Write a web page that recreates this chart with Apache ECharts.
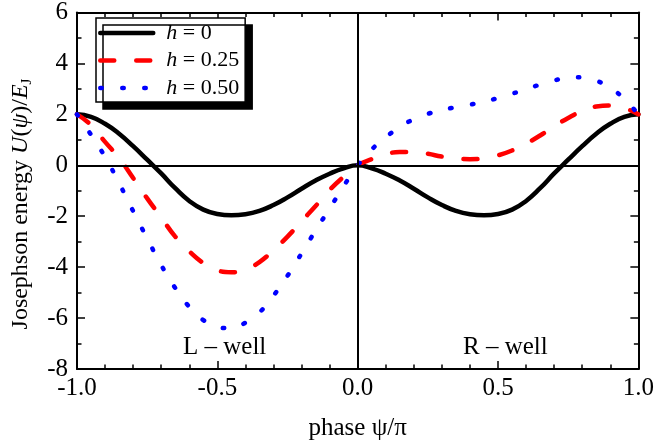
<!DOCTYPE html>
<html>
<head>
<meta charset="utf-8">
<title>Josephson energy</title>
<script src="https://cdn.jsdelivr.net/npm/echarts@6/dist/echarts.min.js"></script>
<style>
  html, body { margin: 0; padding: 0; background: #fff; }
  #main { width: 657px; height: 448px; }
</style>
</head>
<body>
<div id="main"></div>
<script>
// phase psi/pi, sampled every 0.05
var phase = [-1.0, -0.95, -0.9, -0.85, -0.8, -0.75, -0.7, -0.65, -0.6, -0.55, -0.5,
  -0.45, -0.4, -0.35, -0.3, -0.25, -0.2, -0.15, -0.1, -0.05, 0.0,
  0.05, 0.1, 0.15, 0.2, 0.25, 0.3, 0.35, 0.4, 0.45, 0.5,
  0.55, 0.6, 0.65, 0.7, 0.75, 0.8, 0.85, 0.9, 0.95, 1.0];

// h = 0
var u_h0 = [2.0, 1.9, 1.63, 1.24, 0.75, 0.22, -0.32, -0.9, -1.4, -1.74, -1.91,
  -1.96, -1.92, -1.79, -1.56, -1.26, -0.92, -0.6, -0.33, -0.12, 0.0,
  -0.12, -0.33, -0.6, -0.92, -1.26, -1.56, -1.79, -1.92, -1.96, -1.91,
  -1.74, -1.4, -0.9, -0.32, 0.22, 0.75, 1.24, 1.63, 1.9, 2.0];

// h = 0.25
var u_h025 = [2.0, 1.58, 0.92, 0.28, -0.5, -1.3, -2.05, -2.8, -3.38, -3.84, -4.13,
  -4.2, -4.1, -3.8, -3.33, -2.8, -2.2, -1.6, -0.97, -0.45, 0.0,
  0.24, 0.43, 0.52, 0.52, 0.45, 0.34, 0.27, 0.24, 0.27, 0.39,
  0.58, 0.85, 1.17, 1.53, 1.86, 2.13, 2.31, 2.35, 2.25, 2.0];

// h = 0.50
var u_h050 = [2.0, 1.2, 0.33, -0.7, -1.8, -2.87, -3.92, -4.82, -5.56, -6.08, -6.35,
  -6.4, -6.18, -5.78, -5.12, -4.34, -3.46, -2.56, -1.7, -0.82, 0.0,
  0.62, 1.1, 1.5, 1.81, 2.02, 2.17, 2.28, 2.38, 2.5, 2.64,
  2.81, 2.99, 3.17, 3.33, 3.44, 3.46, 3.32, 3.04, 2.6, 2.0];

var names = ['h = 0', 'h = 0.25', 'h = 0.50'];
var wellLabels = ['L \u2013 well', 'R \u2013 well'];
var yTitle = 'Josephson energy {i|U}({i|\u03c8})/{i|E}{sub|J}';
var xTitle = 'phase \u03c8/\u03c0';

var serif = '"Liberation Serif", "DejaVu Serif", serif';

function pairs(ys) {
  return phase.map(function (x, i) { return [x, ys[i]]; });
}

var chart = echarts.init(document.getElementById('main'), null, { renderer: 'canvas' });

var axisLine = { show: true, onZero: false, lineStyle: { color: '#000', width: 2 } };

function xAxisBase(pos, labels) {
  return {
    type: 'value', position: pos, min: -1, max: 1, interval: 0.5,
    axisLine: axisLine,
    axisTick: { show: true, inside: true, length: 8, lineStyle: { color: '#000', width: 1.5 } },
    minorTick: { show: true, splitNumber: 5, length: 4.5, lineStyle: { color: '#000', width: 1.5 } },
    splitLine: { show: false },
    axisLabel: {
      show: labels, margin: 7, color: '#000', fontFamily: serif, fontSize: 25,
      formatter: function (v) { return v.toFixed(1); }
    }
  };
}

function yAxisBase(pos, labels) {
  return {
    type: 'value', position: pos, min: -8, max: 6, interval: 2,
    axisLine: axisLine,
    axisTick: { show: true, inside: true, length: 8, lineStyle: { color: '#000', width: 1.5 } },
    minorTick: { show: true, splitNumber: 2, length: 4.5, lineStyle: { color: '#000', width: 1.5 } },
    splitLine: { show: false },
    axisLabel: { show: labels, margin: 9, color: '#000', fontFamily: serif, fontSize: 25 }
  };
}

var xMain = xAxisBase('bottom', true);
xMain.name = xTitle;
xMain.nameLocation = 'middle';
xMain.nameGap = 47;
xMain.nameTextStyle = { color: '#000', fontFamily: serif, fontSize: 25 };

var option = {
  animation: false,
  backgroundColor: '#fff',
  grid: { left: 77, right: 16, top: 9, bottom: 79, containLabel: false },
  xAxis: [xMain, xAxisBase('top', false)],
  yAxis: [yAxisBase('left', true), yAxisBase('right', false)],
  legend: {
    orient: 'vertical',
    left: 96, top: 18,
    padding: [4, 6, 3, 2],
    itemWidth: 53, itemHeight: 22, itemGap: 5.5,
    backgroundColor: '#fff',
    borderColor: '#000', borderWidth: 1.5, borderRadius: 0,
    shadowColor: '#000', shadowBlur: 0, shadowOffsetX: 7, shadowOffsetY: 7,
    itemStyle: { opacity: 0 },
    lineStyle: { width: 4.5 },
    formatter: function (name) { return '{i|h}' + name.slice(1); },
    textStyle: {
      color: '#000', fontFamily: serif, fontSize: 22, lineHeight: 22, padding: [0, 0, 0, 8],
      rich: { i: { fontFamily: serif, fontSize: 22, fontStyle: 'italic', color: '#000' } }
    },
    data: names
  },
  graphic: [
    {
      type: 'text', x: 21, y: 204, rotation: Math.PI / 2,
      style: {
        text: yTitle, fill: '#000', fontFamily: serif, fontSize: 24, lineHeight: 28,
        align: 'center', verticalAlign: 'middle',
        rich: {
          i: { fontFamily: serif, fontSize: 24, fontStyle: 'italic', fill: '#000', lineHeight: 28 },
          sub: { fontFamily: serif, fontSize: 15, fill: '#000', verticalAlign: 'bottom', lineHeight: 15 }
        }
      }
    },
    { type: 'text', left: 183, top: 335, style: { text: wellLabels[0], fill: '#000', font: '25px ' + serif } },
    { type: 'text', left: 463, top: 335, style: { text: wellLabels[1], fill: '#000', font: '25px ' + serif } }
  ],
  series: [
    {
      name: names[0], type: 'line', data: pairs(u_h0), smooth: 0.5, symbol: 'none',
      lineStyle: { color: '#000', width: 4.5, type: 'solid', cap: 'round' },
      itemStyle: { color: '#000' },
      markLine: {
        silent: true, symbol: ['none', 'none'], label: { show: false },
        lineStyle: { color: '#000', width: 2, type: 'solid' },
        data: [{ xAxis: 0 }, { yAxis: 0 }]
      }
    },
    {
      name: names[1], type: 'line', data: pairs(u_h025), smooth: 0.5, symbol: 'none',
      lineStyle: { color: '#ff0000', width: 4.5, type: [14, 22], cap: 'round' },
      itemStyle: { color: '#ff0000' }
    },
    {
      name: names[2], type: 'line', data: pairs(u_h050), smooth: 0.5, symbol: 'none',
      lineStyle: { color: '#0000ff', width: 4.5, type: [1.5, 20.5], cap: 'round' },
      itemStyle: { color: '#0000ff' }
    }
  ]
};

chart.setOption(option);
</script>
</body>
</html>
